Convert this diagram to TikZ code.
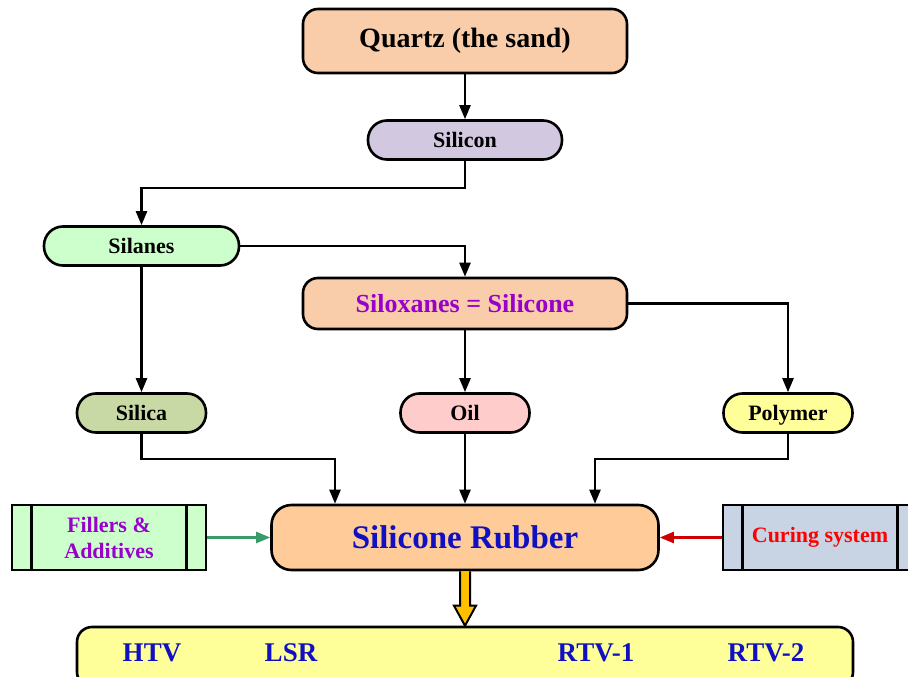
\documentclass[tikz,border=0pt]{standalone}
\usepackage{fontspec}
\setmainfont{Liberation Serif}
\usetikzlibrary{arrows.meta,calc}
\definecolor{peach}{HTML}{F9CDA9}
\definecolor{lavender}{HTML}{D2C8E0}
\definecolor{mint}{HTML}{CCFFCC}
\definecolor{olive}{HTML}{C9D9A5}
\definecolor{rose}{HTML}{FFCCCC}
\definecolor{lemon}{HTML}{FFFF99}
\definecolor{apricot}{HTML}{FFCC99}
\definecolor{steel}{HTML}{C8D4E4}
\definecolor{violet}{HTML}{9900CC}
\definecolor{navy}{HTML}{1010C0}
\definecolor{leaf}{HTML}{3A9A6A}
\definecolor{gold}{HTML}{FFC000}
\definecolor{cherry}{HTML}{D00000}
\newcommand{\fs}[1]{\fontsize{#1}{#1}\selectfont\bfseries}
\begin{document}
\begin{tikzpicture}[x=1pt,y=-1pt,
    box/.style={draw,line width=2.6pt,inner sep=0pt,align=center},
    pill/.style={box,rounded corners=19pt,minimum height=39pt,minimum width=129pt,font=\fs{22}},
    sidebox/.style={box,minimum width=194pt,minimum height=65pt,font=\fs{22}},
    flow/.style={-{Triangle[length=14pt,width=11pt]},line width=2.3pt}]
  \useasboundingbox (0,0) rectangle (908,677);
  \clip (0,0) rectangle (908,677);
  % top of the chain
  \path (465,41)    node[box,rounded corners=15pt,minimum width=324pt,minimum height=64pt,fill=peach,font=\fs{28}] (quartz) {Quartz (the sand)}
        (465,140)   node[pill,minimum width=194pt,fill=lavender] (silicon) {Silicon}
        (141.5,246) node[pill,minimum width=195pt,fill=mint] (silanes) {Silanes}
        (465,303.5) node[box,rounded corners=15pt,minimum width=324pt,minimum height=51pt,fill=peach,font=\fs{26},text=violet] (siloxanes) {Siloxanes = Silicone}
        (141.5,413) node[pill,fill=olive] (silica) {Silica}
        (465,413)   node[pill,fill=rose] (oil) {Oil}
        (788,413)   node[pill,fill=lemon,text depth=0pt] (polymer) {Polymer};
  % rubber and its inputs
  \path (465,537.5) node[box,rounded corners=20pt,minimum width=387pt,minimum height=65pt,fill=apricot,font=\fs{33},text=navy] (rubber) {Silicone Rubber}
        (109,537.5) node[sidebox,fill=mint,text=violet] (fillers) {Fillers \&\\[4pt]Additives}
        (820,537.5) node[sidebox,fill=steel,text=red] (curing) {Curing system};
  \foreach \n in {fillers,curing}
    \draw[line width=2.6pt] ([xshift=21pt]\n.north west) -- ([xshift=21pt]\n.south west)
                            ([xshift=-21pt]\n.north east) -- ([xshift=-21pt]\n.south east);
  % types
  \path (465,657) node[box,rounded corners=15pt,minimum width=776pt,minimum height=60pt,fill=lemon] (types) {};
  \path[font=\fs{27},text=navy]
        (152,653) node (htv) {HTV}
        (291,653) node (lsr) {LSR}
        (596,653) node (rtv1) {RTV-1}
        (766,653) node (rtv2) {RTV-2};
  % connectors
  \draw[flow] (quartz) -- (silicon);
  \draw[flow] (silicon.south) -- ++(0,27) -| (silanes.north);
  \draw[flow] (silanes.east) -| (siloxanes.north);
  \draw[flow] (silanes) -- (silica);
  \draw[flow] (siloxanes) -- (oil);
  \draw[flow] (siloxanes.east) -| (polymer.north);
  \draw[flow] (silica.south) -- ++(0,25) -| ([xshift=-130pt]rubber.north);
  \draw[flow] (oil) -- (rubber);
  \draw[flow] (polymer.south) -- ++(0,25) -| ([xshift=130pt]rubber.north);
  \draw[flow,leaf] (fillers) -- (rubber);
  \draw[flow,cherry] (curing) -- (rubber);
  \draw[fill=gold,line width=2pt,line join=miter]
        ($(rubber.south)+(-5,0)$) -- ($(types.north)+(-5,-20)$) -- ($(types.north)+(-11,-20)$)
        -- (types.north) -- ($(types.north)+(11,-20)$) -- ($(types.north)+(5,-20)$)
        -- ($(rubber.south)+(5,0)$);
\end{tikzpicture}
\end{document}
